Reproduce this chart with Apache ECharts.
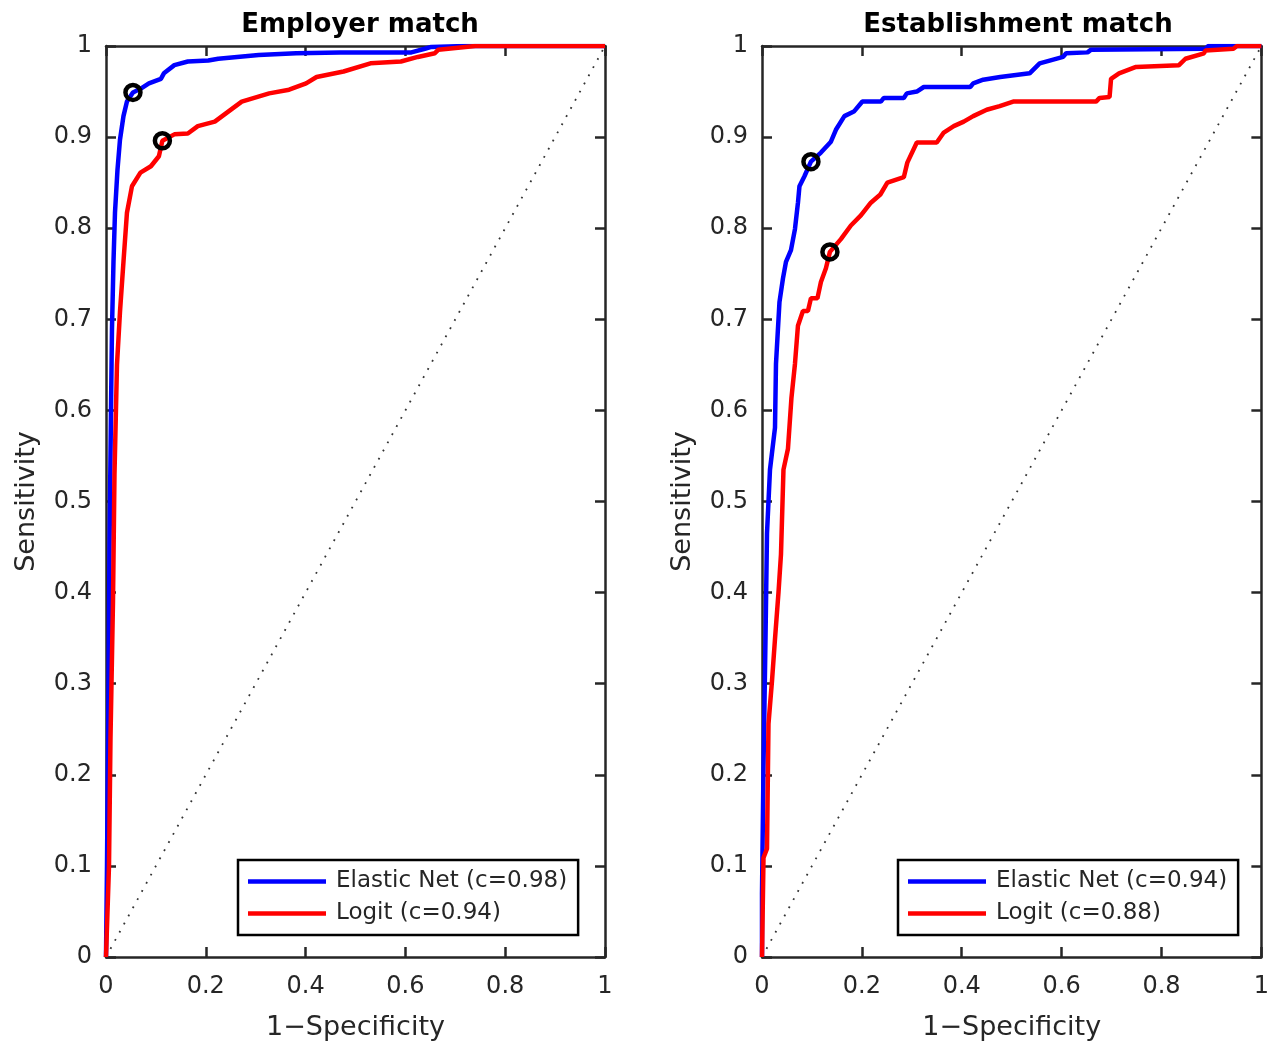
<!DOCTYPE html>
<html>
<head>
<meta charset="utf-8">
<title>ROC curves</title>
<script src="https://cdn.jsdelivr.net/npm/echarts@6.0.0/dist/echarts.min.js"></script>
<style>
  html, body { margin: 0; padding: 0; background: #fff; }
  #chart { width: 1272px; height: 1047px; }
</style>
</head>
<body>
<div id="chart"></div>
<script>
// ROC data (x = 1-specificity, y = sensitivity)
const xTicks = [0, 0.2, 0.4, 0.6, 0.8, 1];
const yTicks = [0, 0.1, 0.2, 0.3, 0.4, 0.5, 0.6, 0.7, 0.8, 0.9, 1];

// Employer match - Elastic Net
const empNetFpr = [0, 0.002, 0.005, 0.007, 0.010, 0.012, 0.015, 0.018, 0.023, 0.028, 0.035, 0.042, 0.054, 0.069, 0.086, 0.110, 0.116, 0.137, 0.164, 0.205, 0.225, 0.306, 0.381, 0.469, 0.612, 0.639, 0.652, 0.720, 1];
const empNetTpr = [0, 0.100, 0.300, 0.450, 0.600, 0.690, 0.763, 0.817, 0.864, 0.897, 0.923, 0.939, 0.949, 0.953, 0.959, 0.964, 0.970, 0.979, 0.983, 0.984, 0.986, 0.990, 0.992, 0.993, 0.993, 0.997, 0.999, 1.000, 1];

// Employer match - Logit
const empLogitFpr = [0, 0.006, 0.009, 0.014, 0.017, 0.022, 0.028, 0.035, 0.042, 0.052, 0.069, 0.090, 0.106, 0.113, 0.137, 0.164, 0.184, 0.218, 0.245, 0.272, 0.327, 0.367, 0.401, 0.422, 0.476, 0.530, 0.591, 0.625, 0.659, 0.666, 0.740, 1];
const empLogitTpr = [0, 0.100, 0.240, 0.390, 0.530, 0.650, 0.708, 0.763, 0.817, 0.846, 0.861, 0.868, 0.879, 0.896, 0.903, 0.904, 0.912, 0.917, 0.928, 0.939, 0.948, 0.952, 0.959, 0.966, 0.972, 0.981, 0.983, 0.988, 0.992, 0.996, 1.000, 1];

// Establishment match - Elastic Net
const estNetFpr = [0, 0, 0.003, 0.007, 0.010, 0.016, 0.026, 0.028, 0.032, 0.035, 0.042, 0.048, 0.058, 0.066, 0.072, 0.075, 0.085, 0.098, 0.118, 0.138, 0.148, 0.165, 0.184, 0.201, 0.238, 0.244, 0.284, 0.290, 0.310, 0.324, 0.417, 0.423, 0.443, 0.477, 0.536, 0.556, 0.576, 0.603, 0.609, 0.652, 0.659, 0.888, 0.894, 1];
const estNetTpr = [0, 0.070, 0.209, 0.349, 0.465, 0.535, 0.581, 0.651, 0.690, 0.719, 0.745, 0.763, 0.776, 0.799, 0.828, 0.846, 0.857, 0.873, 0.883, 0.895, 0.908, 0.923, 0.928, 0.939, 0.939, 0.943, 0.943, 0.948, 0.950, 0.955, 0.955, 0.959, 0.963, 0.966, 0.970, 0.981, 0.984, 0.988, 0.992, 0.993, 0.996, 0.997, 1.000, 1];

// Establishment match - Logit
const estLogitFpr = [0, 0.003, 0.010, 0.013, 0.020, 0.026, 0.033, 0.038, 0.043, 0.052, 0.059, 0.066, 0.072, 0.082, 0.092, 0.098, 0.111, 0.118, 0.128, 0.136, 0.158, 0.178, 0.198, 0.218, 0.237, 0.251, 0.284, 0.291, 0.310, 0.350, 0.364, 0.384, 0.404, 0.423, 0.450, 0.476, 0.503, 0.669, 0.676, 0.696, 0.699, 0.715, 0.749, 0.835, 0.848, 0.885, 0.888, 0.944, 0.951, 1];
const estLogitTpr = [0, 0.109, 0.119, 0.256, 0.303, 0.349, 0.400, 0.442, 0.535, 0.558, 0.614, 0.651, 0.693, 0.709, 0.709, 0.723, 0.723, 0.741, 0.756, 0.774, 0.788, 0.803, 0.814, 0.828, 0.837, 0.850, 0.856, 0.872, 0.894, 0.894, 0.905, 0.912, 0.917, 0.923, 0.930, 0.934, 0.939, 0.939, 0.943, 0.944, 0.964, 0.970, 0.977, 0.979, 0.986, 0.992, 0.995, 0.997, 1.000, 1];

// chosen cut-off points (black circles)
const empCutoffs = [[0.054, 0.949], [0.113, 0.896]];
const estCutoffs = [[0.098, 0.873], [0.136, 0.774]];

const panelTitles = ['Employer match', 'Establishment match'];
const netNames = ['Elastic Net (c=0.98)', 'Elastic Net (c=0.94)'];
const logitNames = ['Logit (c=0.94)', 'Logit (c=0.88)'];

const FONT = 'DejaVu Sans';
const INK = '#262626';

function zip(xs, ys) {
    return xs.map((x, i) => [x, ys[i]]);
}

const grids = [
    { left: 106, top: 46, width: 499, height: 911 },
    { left: 762, top: 46, width: 501, height: 911 }
];

function makeXAxis(gridIndex, pos) {
    return {
        type: 'value', gridIndex: gridIndex, position: pos,
        min: 0, max: 1, interval: 0.2,
        name: pos === 'bottom' ? '1\u2212Specificity' : '',
        nameLocation: 'middle', nameGap: 57,
        nameTextStyle: { fontFamily: FONT, fontSize: 27, color: INK },
        axisLine: { show: true, onZero: false, lineStyle: { color: INK, width: 2.5 } },
        axisTick: { show: true, inside: true, length: 10, lineStyle: { color: INK, width: 2.5 } },
        axisLabel: {
            show: pos === 'bottom', margin: 18,
            fontFamily: FONT, fontSize: 24, color: INK,
            formatter: v => String(+v.toFixed(1))
        },
        splitLine: { show: false }
    };
}

function makeYAxis(gridIndex, pos) {
    return {
        type: 'value', gridIndex: gridIndex, position: pos,
        min: 0, max: 1, interval: 0.1,
        name: pos === 'left' ? 'Sensitivity' : '',
        nameLocation: 'middle', nameGap: 66, nameRotate: 90,
        nameTextStyle: { fontFamily: FONT, fontSize: 27, color: INK },
        axisLine: { show: true, onZero: false, lineStyle: { color: INK, width: 2.5 } },
        axisTick: { show: true, inside: true, length: 10, lineStyle: { color: INK, width: 2.5 } },
        axisLabel: {
            show: pos === 'left', margin: 14,
            fontFamily: FONT, fontSize: 24, color: INK,
            formatter: v => String(+v.toFixed(1))
        },
        splitLine: { show: false }
    };
}

function panelSeries(p, netData, logitData, cutoffs) {
    const xi = p * 2, yi = p * 2;
    return [
        {
            type: 'line', xAxisIndex: xi, yAxisIndex: yi,
            data: [[0, 0], [1, 1]], showSymbol: false, silent: true,
            lineStyle: { color: '#333', width: 1.8, type: [1.8, 7.5] }, z: 1
        },
        {
            name: netNames[p], type: 'line', xAxisIndex: xi, yAxisIndex: yi,
            data: netData, showSymbol: false, color: '#0000ff',
            lineStyle: { color: '#0000ff', width: 4.5 }, z: 2
        },
        {
            name: logitNames[p], type: 'line', xAxisIndex: xi, yAxisIndex: yi,
            data: logitData, showSymbol: false, color: '#ff0000',
            lineStyle: { color: '#ff0000', width: 4.5 }, z: 3
        },
        {
            type: 'scatter', xAxisIndex: xi, yAxisIndex: yi,
            data: cutoffs, symbol: 'circle', symbolSize: 15, silent: true,
            itemStyle: { color: 'rgba(0,0,0,0)', borderColor: '#000', borderWidth: 4.5, opacity: 1 }, z: 4
        }
    ];
}

function makeLegend(p, left) {
    return {
        orient: 'vertical', left: left, top: 860,
        data: [netNames[p], logitNames[p]],
        icon: 'rect', itemWidth: 78, itemHeight: 4.5, itemGap: 5,
        padding: [8, 11, 8, 10],
        borderColor: '#000', borderWidth: 2.5, borderRadius: 0,
        backgroundColor: '#fff',
        selectedMode: false,
        textStyle: { fontFamily: FONT, fontSize: 23, color: INK, lineHeight: 27, padding: [0, 0, 0, 5] }
    };
}

const chart = echarts.init(document.getElementById('chart'), null, { renderer: 'canvas' });

chart.setOption({
    animation: false,
    backgroundColor: '#fff',
    title: [
        { text: panelTitles[0], left: 355, top: 7, textAlign: 'center',
          textStyle: { fontFamily: FONT, fontSize: 26, fontWeight: 'bold', color: '#000' } },
        { text: panelTitles[1], left: 1013, top: 7, textAlign: 'center',
          textStyle: { fontFamily: FONT, fontSize: 26, fontWeight: 'bold', color: '#000' } }
    ],
    legend: [makeLegend(0, 238), makeLegend(1, 898)],
    grid: grids,
    xAxis: [makeXAxis(0, 'bottom'), makeXAxis(0, 'top'), makeXAxis(1, 'bottom'), makeXAxis(1, 'top')],
    yAxis: [makeYAxis(0, 'left'), makeYAxis(0, 'right'), makeYAxis(1, 'left'), makeYAxis(1, 'right')],
    series: [].concat(
        panelSeries(0, zip(empNetFpr, empNetTpr), zip(empLogitFpr, empLogitTpr), empCutoffs),
        panelSeries(1, zip(estNetFpr, estNetTpr), zip(estLogitFpr, estLogitTpr), estCutoffs)
    )
});
</script>
</body>
</html>
